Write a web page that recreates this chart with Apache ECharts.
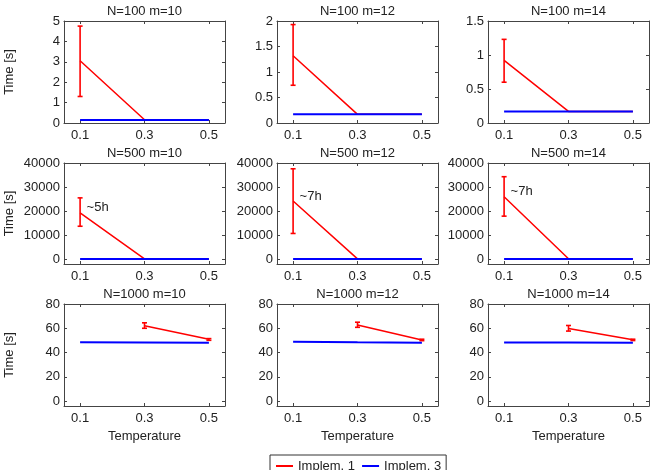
<!DOCTYPE html>
<html>
<head>
<meta charset="utf-8">
<script src="https://cdn.jsdelivr.net/npm/echarts@6/dist/echarts.min.js"></script>
<style>
  html, body { margin: 0; padding: 0; background: #fff; }
  #chart { width: 653px; height: 470px; }
</style>
</head>
<body>
<div id="chart"></div>
<script>
// temperatures on the x axis, same for every panel
const temps = [0.1, 0.3, 0.5];
const xTicks = [0.1, 0.3, 0.5];

const panelTitles = [
  'N=100 m=10', 'N=100 m=12', 'N=100 m=14',
  'N=500 m=10', 'N=500 m=12', 'N=500 m=14',
  'N=1000 m=10', 'N=1000 m=12', 'N=1000 m=14'
];

// Implem. 1 : mean, lower and upper end of the error bar
const impl1Mean = [
  [3.05, 0.16, 0.16],
  [1.32, 0.17, 0.17],
  [0.92, 0.17, 0.17],
  [19300, 150, 100],
  [24200, 150, 100],
  [26000, 150, 100],
  [null, 62.1, 50.9],
  [null, 62.7, 50.4],
  [null, 59.8, 50.5]
];
const impl1Low = [
  [1.3, null, null],
  [0.74, null, null],
  [0.6, null, null],
  [13700, null, null],
  [10700, null, null],
  [17900, null, null],
  [null, 60.0, 50.1],
  [null, 60.8, 49.8],
  [null, 57.7, 49.9]
];
const impl1High = [
  [4.75, null, null],
  [1.93, null, null],
  [1.23, null, null],
  [25500, null, null],
  [37600, null, null],
  [34300, null, null],
  [null, 64.5, 51.5],
  [null, 65.0, 51.0],
  [null, 62.3, 51.0]
];

// Implem. 3
const impl3Mean = [
  [0.15, 0.15, 0.15],
  [0.17, 0.17, 0.17],
  [0.17, 0.17, 0.17],
  [30, 30, 30],
  [30, 30, 30],
  [30, 30, 30],
  [48.4, 48.2, 48.0],
  [48.9, 48.4, 48.0],
  [48.2, 48.2, 48.1]
];

// text next to the first point
const notes = ['', '', '', '~5h', '~7h', '~7h', '', '', ''];

// y limits and ticks
const yMin = [0, 0, 0, -2000, -2000, -2000, -4, -4, -4];
const yMax = [5, 2, 1.5, 40000, 40000, 40000, 80, 80, 80];
const yTicks = [
  [0, 1, 2, 3, 4, 5],
  [0, 0.5, 1, 1.5, 2],
  [0, 0.5, 1, 1.5],
  [0, 10000, 20000, 30000, 40000],
  [0, 10000, 20000, 30000, 40000],
  [0, 10000, 20000, 30000, 40000],
  [0, 20, 40, 60, 80],
  [0, 20, 40, 60, 80],
  [0, 20, 40, 60, 80]
];

const FONT = '"Liberation Sans", Arial, sans-serif';
const TEXT = '#222';
const AXIS = '#444';
const RED = '#ff0000';
const BLUE = '#0000ff';

const colLeft = [64, 277, 488];
const rowTop = [21, 163, 304];
const rowH = [102, 101, 102];
const boxW = 161;

function renderErr(params, api) {
  const x = api.value(0);
  const lo = api.coord([x, api.value(1)]);
  const hi = api.coord([x, api.value(2)]);
  const cap = 2.5;
  const style = { stroke: RED, lineWidth: 1.6 };
  return {
    type: 'group',
    children: [
      { type: 'line', shape: { x1: lo[0], y1: lo[1], x2: hi[0], y2: hi[1] }, style: style },
      { type: 'line', shape: { x1: hi[0] - cap, y1: hi[1], x2: hi[0] + cap, y2: hi[1] }, style: style },
      { type: 'line', shape: { x1: lo[0] - cap, y1: lo[1], x2: lo[0] + cap, y2: lo[1] }, style: style }
    ]
  };
}

const option = {
  animation: false,
  title: [],
  grid: [],
  xAxis: [],
  yAxis: [],
  series: [],
  legend: {
    data: [
      { name: 'Implem. 1', icon: 'rect' },
      { name: 'Implem. 3', icon: 'rect' }
    ],
    left: 270,
    top: 455,
    padding: [4, 5, 4, 6],
    itemGap: 7,
    itemWidth: 17,
    itemHeight: 2,
    itemTextGap: 2,
    borderColor: '#333',
    borderWidth: 1,
    textStyle: { fontFamily: FONT, fontSize: 13, color: TEXT, lineHeight: 14 }
  }
};

for (let i = 0; i < 9; i++) {
  const r = Math.floor(i / 3);
  const c = i % 3;

  option.grid.push({ left: colLeft[c], top: rowTop[r], width: boxW, height: rowH[r] });

  option.title.push({
    text: panelTitles[i],
    left: colLeft[c] + boxW / 2,
    top: rowTop[r] - 16,
    textAlign: 'center',
    padding: 0,
    textStyle: { fontFamily: FONT, fontSize: 13, fontWeight: 'normal', color: TEXT }
  });

  const lineStyle = { color: AXIS, width: 1 };
  const tickX = { inside: true, length: 3, customValues: xTicks, lineStyle: lineStyle };
  const tickY = { inside: true, length: 3, customValues: yTicks[i], lineStyle: lineStyle };

  // bottom and top x axes
  option.xAxis.push({
    type: 'value', gridIndex: i, position: 'bottom', min: 0.05, max: 0.55,
    axisLine: { onZero: false, lineStyle: lineStyle },
    axisTick: tickX,
    splitLine: { show: false },
    axisLabel: { customValues: xTicks, margin: 6, fontFamily: FONT, fontSize: 13, color: TEXT },
    name: r === 2 ? 'Temperature' : '',
    nameLocation: 'middle',
    nameGap: 24,
    nameTextStyle: { fontFamily: FONT, fontSize: 13, color: TEXT }
  });
  option.xAxis.push({
    type: 'value', gridIndex: i, position: 'top', min: 0.05, max: 0.55,
    axisLine: { onZero: false, lineStyle: lineStyle },
    axisTick: tickX,
    splitLine: { show: false },
    axisLabel: { show: false }
  });

  // left and right y axes
  option.yAxis.push({
    type: 'value', gridIndex: i, position: 'left', min: yMin[i], max: yMax[i],
    axisLine: { show: true, onZero: false, lineStyle: lineStyle },
    axisTick: tickY,
    splitLine: { show: false },
    axisLabel: {
      customValues: yTicks[i], margin: 4, fontFamily: FONT, fontSize: 13, color: TEXT,
      formatter: function (v) { return String(v); }
    },
    name: c === 0 ? 'Time [s]' : '',
    nameLocation: 'middle',
    nameGap: 48,
    nameTextStyle: { fontFamily: FONT, fontSize: 13, color: TEXT }
  });
  option.yAxis.push({
    type: 'value', gridIndex: i, position: 'right', min: yMin[i], max: yMax[i],
    axisLine: { show: true, onZero: false, lineStyle: lineStyle },
    axisTick: tickY,
    splitLine: { show: false },
    axisLabel: { show: false }
  });

  const xi = 2 * i;
  const yi = 2 * i;

  option.series.push({
    name: 'Implem. 1',
    type: 'line',
    xAxisIndex: xi, yAxisIndex: yi,
    data: temps.map(function (t, k) {
      const v = impl1Mean[i][k];
      return v === null ? [t, '-'] : [t, v];
    }),
    symbol: 'none',
    color: RED,
    lineStyle: { color: RED, width: 1.5 },
    z: 2
  });

  const errData = [];
  temps.forEach(function (t, k) {
    if (impl1Low[i][k] !== null) errData.push([t, impl1Low[i][k], impl1High[i][k]]);
  });
  option.series.push({
    name: 'err' + i,
    type: 'custom',
    xAxisIndex: xi, yAxisIndex: yi,
    renderItem: renderErr,
    encode: { x: 0, y: [1, 2] },
    data: errData,
    z: 3
  });

  option.series.push({
    name: 'Implem. 3',
    type: 'line',
    xAxisIndex: xi, yAxisIndex: yi,
    data: temps.map(function (t, k) { return [t, impl3Mean[i][k]]; }),
    symbol: 'none',
    color: BLUE,
    lineStyle: { color: BLUE, width: 2 },
    z: 4
  });

  if (notes[i]) {
    option.series.push({
      name: 'note' + i,
      type: 'scatter',
      xAxisIndex: xi, yAxisIndex: yi,
      data: [[temps[0], impl1Mean[i][0]]],
      symbolSize: 1,
      itemStyle: { color: 'rgba(0,0,0,0)' },
      label: {
        show: true, formatter: notes[i], position: 'right', distance: 6, offset: [0, -5],
        fontFamily: FONT, fontSize: 13, color: TEXT, opacity: 1, textBorderWidth: 0
      },
      silent: true,
      z: 5
    });
  }
}

const chart = echarts.init(document.getElementById('chart'));
chart.setOption(option);
</script>
</body>
</html>
